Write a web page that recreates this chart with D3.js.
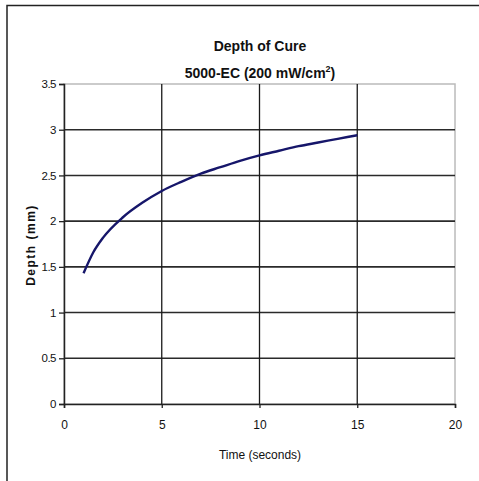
<!DOCTYPE html>
<html><head>
<script src="https://d3js.org/d3.v7.min.js"></script>
<style>
  body { margin:0; background:#fff; }
  text { font-family: "Liberation Sans", Arial, sans-serif; fill:#111; }
</style>
</head>
<body>
<svg width="479" height="481"></svg>
<script>
var times  = [1, 1.5, 2, 3, 4, 5, 6, 7, 8, 9, 10, 11, 12, 13, 14, 15];
var depths = [1.43, 1.66, 1.82, 2.04, 2.20, 2.33, 2.43, 2.52, 2.59, 2.66, 2.72, 2.77, 2.82, 2.86, 2.90, 2.94];
var xTicks = [0, 5, 10, 15, 20];
var yTicks = [0, 0.5, 1, 1.5, 2, 2.5, 3, 3.5];

var svg = d3.select("svg");
var pLeft = 64, pRight = 455, pTop = 84, pBottom = 404;

var x = d3.scaleLinear().domain([0, 20]).range([pLeft, pRight]);
var y = d3.scaleLinear().domain([0, 3.5]).range([pBottom, pTop]);

// outer frame (only left/top visible)
svg.append("path").attr("d", "M7,490 L7,5.5 L490,5.5")
  .attr("fill", "none").attr("stroke", "#222").attr("stroke-width", 1.5);

// plot border
svg.append("rect").attr("x", pLeft).attr("y", pTop)
  .attr("width", pRight - pLeft).attr("height", pBottom - pTop)
  .attr("fill", "none").attr("stroke", "#bbb").attr("stroke-width", 1.5);

// grid
svg.append("g").selectAll("line").data(yTicks.filter(function(d){ return d > 0 && d < 3.5; }))
  .enter().append("line")
  .attr("x1", pLeft).attr("x2", pRight)
  .attr("y1", function(d){ return y(d); }).attr("y2", function(d){ return y(d); })
  .attr("stroke", "#2a2a2a").attr("stroke-width", 1.6);
svg.append("g").selectAll("line").data(xTicks.filter(function(d){ return d > 0 && d < 20; }))
  .enter().append("line")
  .attr("y1", pTop).attr("y2", pBottom)
  .attr("x1", function(d){ return x(d); }).attr("x2", function(d){ return x(d); })
  .attr("stroke", "#1a1a1a").attr("stroke-width", 1.3);

// axes
var yAxis = svg.append("g").attr("transform", "translate(" + pLeft + ",0)")
  .call(d3.axisLeft(y).tickValues(yTicks).tickSize(5).tickPadding(3).tickFormat(d3.format("")));
var xAxis = svg.append("g").attr("transform", "translate(0," + pBottom + ")")
  .call(d3.axisBottom(x).tickValues(xTicks).tickSize(4).tickPadding(12));
[yAxis, xAxis].forEach(function(a){
  a.select(".domain").attr("stroke", "#222").attr("stroke-width", 1.5);
  a.selectAll(".tick line").attr("stroke", "#222").attr("stroke-width", 1.3);
  a.selectAll("text").style("font-size", "12px").attr("fill", "#111");
});
yAxis.selectAll("text").style("font-size", "11.5px").style("letter-spacing", "-0.5px");

// curve
var line = d3.line()
  .x(function(d, i){ return x(times[i]); })
  .y(function(d){ return y(d); })
  .curve(d3.curveMonotoneX);
svg.append("path").datum(depths)
  .attr("d", line).attr("fill", "none")
  .attr("stroke", "#16166a").attr("stroke-width", 2.4);

// titles
svg.append("text").attr("x", 260).attr("y", 51).attr("text-anchor", "middle")
  .style("font-size", "14px").style("font-weight", "bold").text("Depth of Cure");
var t2 = svg.append("text").attr("x", 260).attr("y", 78).attr("text-anchor", "middle")
  .style("font-size", "14px").style("font-weight", "bold");
t2.append("tspan").text("5000-EC (200 mW/cm");
t2.append("tspan").attr("dy", -6).style("font-size", "9px").text("2");
t2.append("tspan").attr("dy", 6).text(")");

svg.append("text").attr("x", 260).attr("y", 459).attr("text-anchor", "middle")
  .style("font-size", "12px").text("Time (seconds)");

svg.append("text").attr("transform", "translate(35,245) rotate(-90)")
  .attr("text-anchor", "middle").style("font-size", "12px").style("font-weight", "bold")
  .style("letter-spacing", "1.5px").text("Depth (mm)");
</script>
</body></html>
